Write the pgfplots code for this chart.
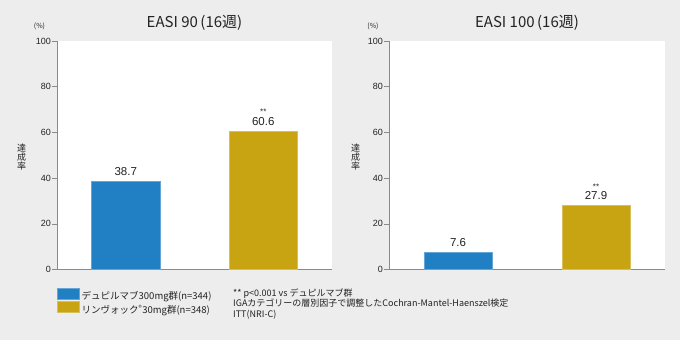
\documentclass[border=0pt]{standalone}
\usepackage{fontspec}
\usepackage{pgfplots}
\pgfplotsset{compat=1.18}
\setmainfont{Liberation Sans}
\newfontfamily\jp{Noto Sans CJK JP}
\definecolor{bg}{HTML}{ECEDEC}
\definecolor{barblue}{HTML}{2180C4}
\definecolor{bargold}{HTML}{C9A412}
\definecolor{axgray}{HTML}{8A8A8A}
\definecolor{txt}{HTML}{222222}
\newsavebox{\numbox}
\newcommand{\starnum}[1]{\sbox{\numbox}{#1}\makebox[0pt][l]{\makebox[\wd\numbox][c]{\raisebox{10.2bp}[0pt][0pt]{\fontsize{8bp}{8bp}\selectfont **}}}\usebox{\numbox}}
\pgfplotsset{
  panel/.style={
    scale only axis, width=275bp, height=228.5bp,
    xmin=-0.5, xmax=1.5, ymin=0, ymax=100,
    /pgf/number format/assume math mode=true,
    axis x line*=bottom, axis y line*=left,
    axis line style={axgray, line width=0.9bp},
    x axis line style={line width=1.5bp},
    axis background/.style={fill=white},
    xtick=\empty, ytick={0,20,...,100},
    tick align=outside,
    tick style={axgray, line width=0.6bp}, major tick length=5bp,
    yticklabel style={font=\fontsize{9bp}{10bp}\selectfont, text=txt, inner sep=1bp},
    clip=false,
  },
  bar/.style={ybar, bar width=68.5bp, bar shift=0pt, draw=#1!70!white, line width=0.5bp, fill=#1,
    nodes near coords={\pgfmathprintnumber[fixed,fixed zerofill,precision=1,assume math mode=true]{\pgfplotspointmeta}},
    every node near coord/.append style={font=\fontsize{11.5bp}{12bp}\selectfont, text=txt, anchor=south, inner sep=0pt, yshift=5.5bp}},
  starbar/.style={bar=#1,
    nodes near coords={\starnum{\pgfmathprintnumber[fixed,fixed zerofill,precision=1,assume math mode=true]{\pgfplotspointmeta}}}},
}
\begin{document}
\begin{tikzpicture}[x=1bp,y=1bp]
\useasboundingbox (0,0) rectangle (680,340);
\fill[bg] (0,0) rectangle (680,340);

\begin{axis}[panel, at={(57bp,70.5bp)}, anchor=south west,
  legend style={at={(0,-0.0779)}, anchor=north west, draw=none, fill=none, inner sep=0pt,
    row sep=-2.5bp, font=\jp\fontsize{9.5bp}{11bp}\selectfont, text=txt,
    /tikz/every even column/.append style={column sep=4bp}},
  legend cell align=left,
  legend image code/.code={\fill[#1] (0bp,-2.6bp) rectangle (22bp,8.9bp);},
]
\addplot[bar=barblue] coordinates {(0,38.7)};
\addplot[starbar=bargold] coordinates {(1,60.6)};
\legend{デュピルマブ300mg群(n=344), リンヴォック\textsuperscript{®}30mg群(n=348)}
\end{axis}

\begin{axis}[panel, at={(389bp,70.5bp)}, anchor=south west, width=276bp]
\addplot[bar=barblue] coordinates {(0,7.6)};
\addplot[starbar=bargold] coordinates {(1,27.9)};
\end{axis}

\node[font=\jp\fontsize{15bp}{17bp}\selectfont, text=txt] at (194.5,317.3) {EASI 90\,(16週)};
\node[font=\jp\fontsize{15bp}{17bp}\selectfont, text=txt] at (527,317.3) {EASI 100\,(16週)};
\node[font=\jp\fontsize{7bp}{8bp}\selectfont, text=txt] at (39.5,313.7) {(\%)};
\node[font=\jp\fontsize{7bp}{8bp}\selectfont, text=txt] at (373,313.7) {(\%)};
\node[font=\jp\fontsize{9bp}{9bp}\selectfont, text=txt, align=center, inner sep=0pt] at (21.5,183) {達\\成\\率};
\node[font=\jp\fontsize{9bp}{9bp}\selectfont, text=txt, align=center, inner sep=0pt] at (355.5,183) {達\\成\\率};

\begin{scope}[every node/.style={font=\jp\fontsize{9bp}{11bp}\selectfont, text=txt, anchor=base west, inner sep=0pt}]
\node at (233,44) {** p<0.001 vs デュピルマブ群};
\node at (233,33.5) {IGAカテゴリーの層別因子で調整したCochran-Mantel-Haenszel検定};
\node at (233,23) {ITT(NRI-C)};
\end{scope}
\end{tikzpicture}
\end{document}
